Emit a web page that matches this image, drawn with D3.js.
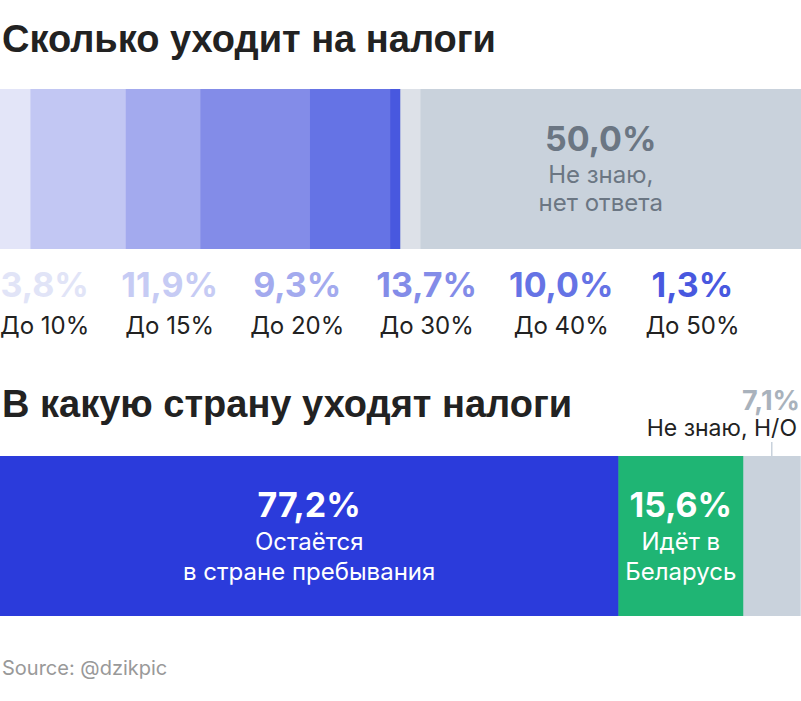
<!DOCTYPE html>
<html>
<head>
<meta charset="utf-8">
<script src="https://cdnjs.cloudflare.com/ajax/libs/d3/7.8.5/d3.min.js"></script>
<style>
  body { margin: 0; background: #fff; }
  svg { display: block; }
</style>
</head>
<body>
<div class="chart"></div>
<script>
// how much goes to taxes
var rateLabels = ["До 10%", "До 15%", "До 20%", "До 30%", "До 40%", "До 50%"];
var rateValues = [3.8, 11.9, 9.3, 13.7, 10.0, 1.3];
var rateColors = ["#e3e5f8", "#c2c7f3", "#a3aaee", "#838ce8", "#6573e5", "#4858df"];
var rateTextColors = ["#e1e4f7", "#c6cbf4", "#a3aaee", "#838ce8", "#6573e5", "#4858df"];
var unknownRate = 50.0;
var unknownRateLines = ["Не знаю,", "нет ответа"];

// where taxes go
var destLabels = [["Остаётся", "в стране пребывания"], ["Идёт в", "Беларусь"], ["Не знаю, Н/О"]];
var destValues = [77.2, 15.6, 7.1];
var destColors = ["#2b3bdb", "#1fb574", "#c9d2dc"];

var w = 801, h = 701;
var fmt = function(v) { return v.toFixed(1).replace(".", ",") + "%"; };
var titleFont = "'Liberation Sans', Arial, sans-serif";
var bodyFont = "Inter, 'Noto Sans', sans-serif";

var svg = d3.select(".chart").append("svg")
    .attr("width", w)
    .attr("height", h);

var x = d3.scaleLinear().domain([0, 100]).range([0, w]);

// ---- first block ----
svg.append("text")
    .attr("x", 2).attr("y", 52)
    .attr("font-family", titleFont).attr("font-weight", 700)
    .attr("font-size", 38).attr("fill", "#222")
    .text("Сколько уходит на налоги");

var top1 = 89, bh = 160;
var starts = [];
var acc = 0;
rateValues.forEach(function(v) { starts.push(acc); acc += v; });

svg.selectAll("rect.rate").data(rateValues).enter().append("rect")
    .attr("class", "rate")
    .attr("x", function(d, i) { return x(starts[i]); })
    .attr("y", top1)
    .attr("width", function(d) { return x(d) - x(0) + 0.5; })
    .attr("height", bh)
    .attr("fill", function(d, i) { return rateColors[i]; });

svg.append("rect")
    .attr("x", x(acc)).attr("y", top1)
    .attr("width", x(unknownRate) - x(0)).attr("height", bh)
    .attr("fill", "#c9d2dc");
// lighter strip at the start of the grey block
svg.append("rect")
    .attr("x", x(acc)).attr("y", top1)
    .attr("width", x(2.5) - x(0)).attr("height", bh)
    .attr("fill", "#dde1e8");

var cx = x(acc + unknownRate / 2);
svg.append("text")
    .attr("x", cx).attr("y", 151)
    .attr("text-anchor", "middle")
    .attr("font-family", bodyFont).attr("font-weight", 700)
    .attr("font-size", 34).attr("fill", "#6b7683")
    .text(fmt(unknownRate));
svg.selectAll("text.unk").data(unknownRateLines).enter().append("text")
    .attr("class", "unk")
    .attr("x", cx)
    .attr("y", function(d, i) { return 183 + i * 28; })
    .attr("text-anchor", "middle")
    .attr("font-family", bodyFont)
    .attr("font-size", 24).attr("fill", "#6b7683")
    .text(function(d) { return d; });

// legend row under the bar, laid out like flex columns
var cols = svg.selectAll("g.col").data(rateValues).enter().append("g")
    .attr("class", "col");
cols.append("text")
    .attr("class", "val")
    .attr("y", 297)
    .attr("text-anchor", "middle")
    .attr("font-family", bodyFont).attr("font-weight", 700)
    .attr("font-size", 34)
    .attr("fill", function(d, i) { return rateTextColors[i]; })
    .text(function(d) { return fmt(d); });
cols.append("text")
    .attr("class", "lab")
    .attr("y", 334)
    .attr("text-anchor", "middle")
    .attr("font-family", bodyFont)
    .attr("font-size", 24).attr("fill", "#222")
    .text(function(d, i) { return rateLabels[i]; });

var cur = 0, gap = 32;
cols.each(function() {
  var g = d3.select(this);
  var cw = Math.max(g.select(".val").node().getComputedTextLength(),
                    g.select(".lab").node().getComputedTextLength());
  g.attr("transform", "translate(" + (cur + cw / 2) + ",0)");
  cur += cw + gap;
});

// ---- second block ----
svg.append("text")
    .attr("x", 2).attr("y", 417)
    .attr("font-family", titleFont).attr("font-weight", 700)
    .attr("font-size", 38).attr("fill", "#222")
    .text("В какую страну уходят налоги");

var top2 = 456;
var dStarts = [];
acc = 0;
destValues.forEach(function(v) { dStarts.push(acc); acc += v; });

svg.selectAll("rect.dest").data(destValues).enter().append("rect")
    .attr("class", "dest")
    .attr("x", function(d, i) { return x(dStarts[i]); })
    .attr("y", top2)
    .attr("width", function(d) { return x(d) - x(0) + 0.5; })
    .attr("height", bh)
    .attr("fill", function(d, i) { return destColors[i]; });

var inside = destValues.slice(0, 2);
inside.forEach(function(v, i) {
  var mx = x(dStarts[i] + v / 2);
  svg.append("text")
      .attr("x", mx).attr("y", 517)
      .attr("text-anchor", "middle")
      .attr("font-family", bodyFont).attr("font-weight", 700)
      .attr("font-size", 34).attr("fill", "#fff")
      .text(fmt(v));
  destLabels[i].forEach(function(line, j) {
    svg.append("text")
        .attr("x", mx).attr("y", 550 + j * 30)
        .attr("text-anchor", "middle")
        .attr("font-family", bodyFont)
        .attr("font-size", 24).attr("fill", "#fff")
        .text(line);
  });
});

// outside label for the small grey segment
var lx = x(dStarts[2] + destValues[2] / 2);
svg.append("line")
    .attr("x1", lx).attr("x2", lx)
    .attr("y1", 442).attr("y2", top2)
    .attr("stroke", "#c9d2dc").attr("stroke-width", 1.5);
svg.append("text")
    .attr("x", 800).attr("y", 410)
    .attr("text-anchor", "end")
    .attr("font-family", bodyFont).attr("font-weight", 700)
    .attr("font-size", 27).attr("fill", "#a9b2bc")
    .text(fmt(destValues[2]));
svg.append("text")
    .attr("x", 797).attr("y", 436)
    .attr("text-anchor", "end")
    .attr("font-family", bodyFont)
    .attr("font-size", 23).attr("fill", "#222")
    .text(destLabels[2][0]);

svg.append("text")
    .attr("x", 2).attr("y", 675)
    .attr("font-family", bodyFont)
    .attr("font-size", 20).attr("fill", "#999")
    .text("Source: @dzikpic");
</script>
</body>
</html>
